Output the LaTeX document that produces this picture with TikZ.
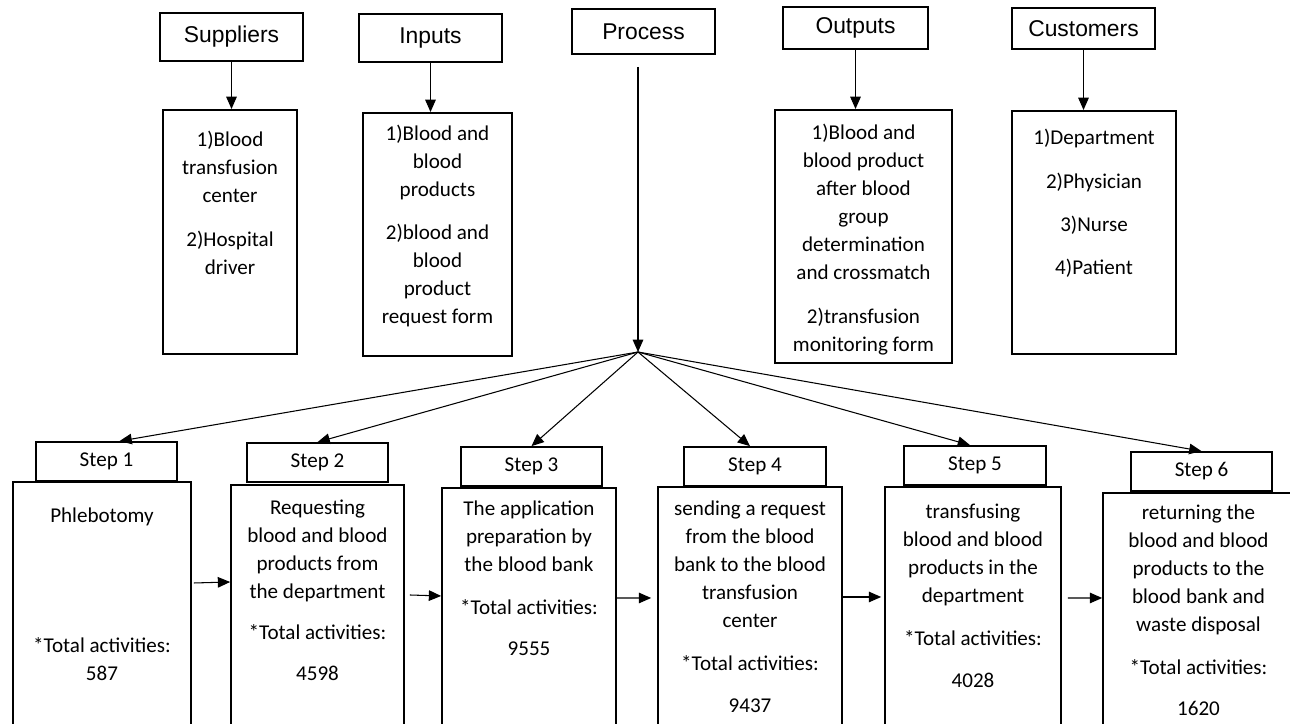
\documentclass[tikz,border=0pt]{standalone}
\usepackage{fontspec}
\setmainfont{Carlito}
\newfontfamily\arialfont{Liberation Sans}
\usetikzlibrary{arrows.meta,positioning}

\begin{document}
\begin{tikzpicture}[
    x=0.02cm, y=-0.02cm,
    hdrbox/.style={rectangle, draw, line width=1pt, minimum width=2.86cm, minimum height=0.9cm, font=\arialfont\fontsize{13}{15}\selectfont},
    listbox/.style={rectangle, draw, line width=1pt, anchor=north},
    tagbox/.style={rectangle, draw, line width=1pt, minimum width=2.82cm, minimum height=0.78cm, font=\fontsize{12}{14}\selectfont},
    stepbox/.style={rectangle, draw, line width=1pt, anchor=north, minimum height=4.9cm},
    bodytext/.style={align=center, inner sep=0pt, font=\fontsize{12}{15.9}\selectfont},
    arr/.style={-{Triangle[length=7pt,width=6pt]}, line width=0.6pt}
]
    \useasboundingbox (0,0) rectangle (1290,723);
    \clip (0,0) rectangle (1290,723);

    % SIPOC headers
    \node[hdrbox, minimum height=0.96cm] (sup) at (231.5,37) {Suppliers};
    \node[hdrbox, minimum height=0.96cm] (inp) at (430.5,38) {Inputs};
    \node[hdrbox] (proc) at (643.5,31.5) {Process};
    \node[hdrbox, minimum width=2.9cm, minimum height=0.84cm] (outp) at (855.5,28) {Outputs};
    \node[hdrbox, minimum height=0.82cm] (cus) at (1083.5,28.5) {Customers};

    % lists under the headers
    \node[listbox, minimum width=2.68cm, minimum height=4.88cm] (supbox) at (230,109) {};
    \node[listbox, minimum width=2.98cm, minimum height=4.86cm] (inbox) at (437.5,112) {};
    \node[listbox, minimum width=3.54cm, minimum height=5.06cm] (outbox) at (863.5,109) {};
    \node[listbox, minimum width=3.28cm, minimum height=4.86cm] (cusbox) at (1094,110) {};

    \node[bodytext, below=0.44cm of supbox.north] (suptxt) {1)Blood\\transfusion\\center\\[9pt]2)Hospital\\driver};
    \node[bodytext, below=0.26cm of inbox.north] (intxt) {1)Blood and\\blood\\products\\[8.5pt]2)blood and\\blood\\product\\request form};
    \node[bodytext, below=0.30cm of outbox.north] (outtxt) {1)Blood and\\blood product\\after blood\\group\\determination\\and crossmatch\\[9pt]2)transfusion\\monitoring form};
    \node[bodytext, below=0.38cm of cusbox.north] (custxt) {1)Department\\[8.8pt]2)Physician\\[8.8pt]3)Nurse\\[8.8pt]4)Patient};

    \draw[arr] (sup.south) -- (sup.south |- supbox.north);
    \draw[arr] (inp.south) -- (inp.south |- inbox.north);
    \draw[arr] (outp.south) -- (outp.south |- outbox.north);
    \draw[arr] (cus.south) -- (cus.south |- cusbox.north);

    % process steps
    \node[stepbox, minimum width=3.56cm] (s1) at (102,481) {};
    \node[stepbox, minimum width=3.46cm] (s2) at (317.5,484) {};
    \node[stepbox, minimum width=3.48cm] (s3) at (529,487) {};
    \node[stepbox, minimum width=3.68cm] (s4) at (750,486) {};
    \node[stepbox, minimum width=3.52cm] (s5) at (973,486) {};
    \node[stepbox, minimum width=3.82cm] (s6) at (1198.5,492) {};

    \node[tagbox] (h1) at (106.5,461.5) {Step 1};
    \node[tagbox] (h2) at (317.5,462.5) {Step 2};
    \node[tagbox] (h3) at (531.5,466.5) {Step 3};
    \node[tagbox, minimum width=2.84cm] (h4) at (755,466.5) {Step 4};
    \node[tagbox, minimum width=2.84cm] (h5) at (975,465.5) {Step 5};
    \node[tagbox] (h6) at (1201.5,471.5) {Step 6};

    \node[bodytext, below=0.54cm of s1.north] (t1) {Phlebotomy\\[57.8pt]*Total activities:\\587};
    \node[bodytext, below=0.32cm of s2.north] (t2) {Requesting\\blood and blood\\products from\\the department\\[7.5pt]*Total activities:\\[7pt]4598};
    \node[bodytext, below=0.28cm of s3.north] (t3) {The application\\preparation by\\the blood bank\\[8.5pt]*Total activities:\\[7.5pt]9555};
    \node[bodytext, below=0.30cm of s4.north] (t4) {sending a request\\from the blood\\bank to the blood\\transfusion\\center\\[8.5pt]*Total activities:\\[8pt]9437};
    \node[bodytext, below=0.36cm of s5.north] (t5) {transfusing\\blood and blood\\products in the\\department\\[8.5pt]*Total activities:\\[8pt]4028};
    \node[bodytext, below=0.26cm of s6.north] (t6) {returning the\\blood and blood\\products to the\\blood bank and\\waste disposal\\[8.5pt]*Total activities:\\[7.5pt]1620};

    % fan out from the process line
    \coordinate (hub) at (638,352);
    \draw[arr] ([yshift=-0.24cm]hub |- proc.south) -- (hub);
    \draw[arr] (hub) -- ([xshift=0.26cm]h1.north);
    \draw[arr] (hub) -- (h2.north);
    \draw[arr] (hub) -- (h3.north);
    \draw[arr] (hub) -- ([xshift=-0.1cm]h4.north);
    \draw[arr] (hub) -- ([xshift=-0.1cm]h5.north);
    \draw[arr] (hub) -- (h6.north);

    % step to step
    \draw[arr] ([xshift=0.04cm, yshift=-2.04cm]s1.north east) -- ([yshift=-1.96cm]s2.north west);
    \draw[arr] ([xshift=0.1cm, yshift=-2.22cm]s2.north east) -- ([yshift=-2.18cm]s3.north west);
    \draw[arr] ([yshift=-2.22cm]s3.north east) -- ([xshift=-0.12cm, yshift=-2.24cm]s4.north west);
    \draw[arr] ([yshift=-2.22cm]s4.north east) -- ([xshift=-0.06cm, yshift=-2.22cm]s5.north west);
    \draw[arr] ([xshift=0.12cm, yshift=-2.24cm]s5.north east) -- ([yshift=-2.12cm]s6.north west);
\end{tikzpicture}
\end{document}
